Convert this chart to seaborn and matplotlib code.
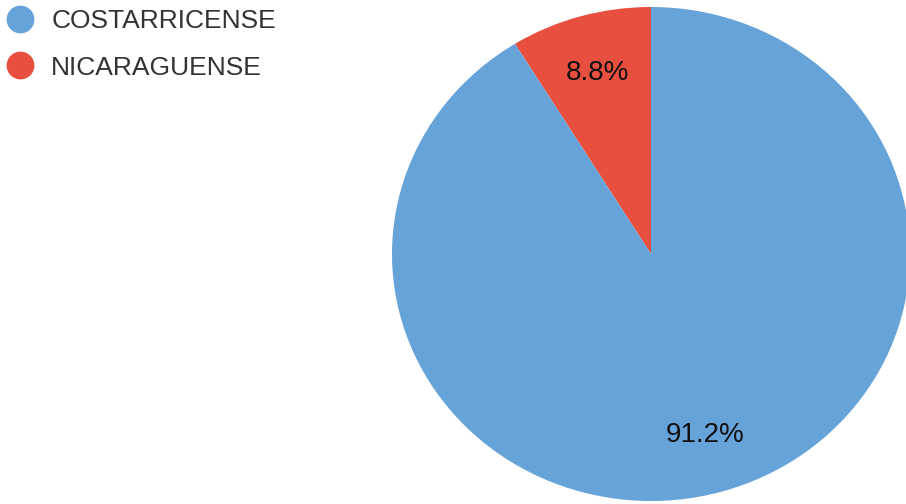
import matplotlib
matplotlib.use("Agg")
import matplotlib.pyplot as plt
from matplotlib.lines import Line2D
import seaborn as sns

labels = ['COSTARRICENSE', 'NICARAGUENSE']
values = [91.2, 8.8]
colors = ['#66a3d8', '#e94f3f']

sns.set_theme(style='white')
plt.rcParams['font.family'] = ['Liberation Sans', 'DejaVu Sans']

fig = plt.figure(figsize=(9.06, 5.04), dpi=100)
W, H = 906, 504
cx, cy, rx, ry = 651, 254, 259, 247
ax = fig.add_axes([(cx - rx) / W, (H - cy - ry) / H, 2 * rx / W, 2 * ry / H])

# red slice first, going counterclockwise from the top
ax.pie(values[::-1], colors=colors[::-1], startangle=90, counterclock=True,
       autopct='%.1f%%', pctdistance=0.76,
       textprops={'fontsize': 20, 'color': '#111111'},
       wedgeprops={'linewidth': 0})
ax.set_aspect('auto')
ax.set_xlim(-1, 1)
ax.set_ylim(-1, 1)
ax.axis('off')

handles = [Line2D([0], [0], marker='o', linestyle='', markersize=19,
                  markerfacecolor=c, markeredgecolor=c) for c in colors]
fig.legend(handles, labels, loc='upper left', bbox_to_anchor=(0.0055, 0.982),
           frameon=False, fontsize=19, labelcolor='#333333',
           borderpad=0, borderaxespad=0,
           handletextpad=0.62, labelspacing=0.85, handlelength=1.13)

fig.savefig('out.png', dpi=100)
